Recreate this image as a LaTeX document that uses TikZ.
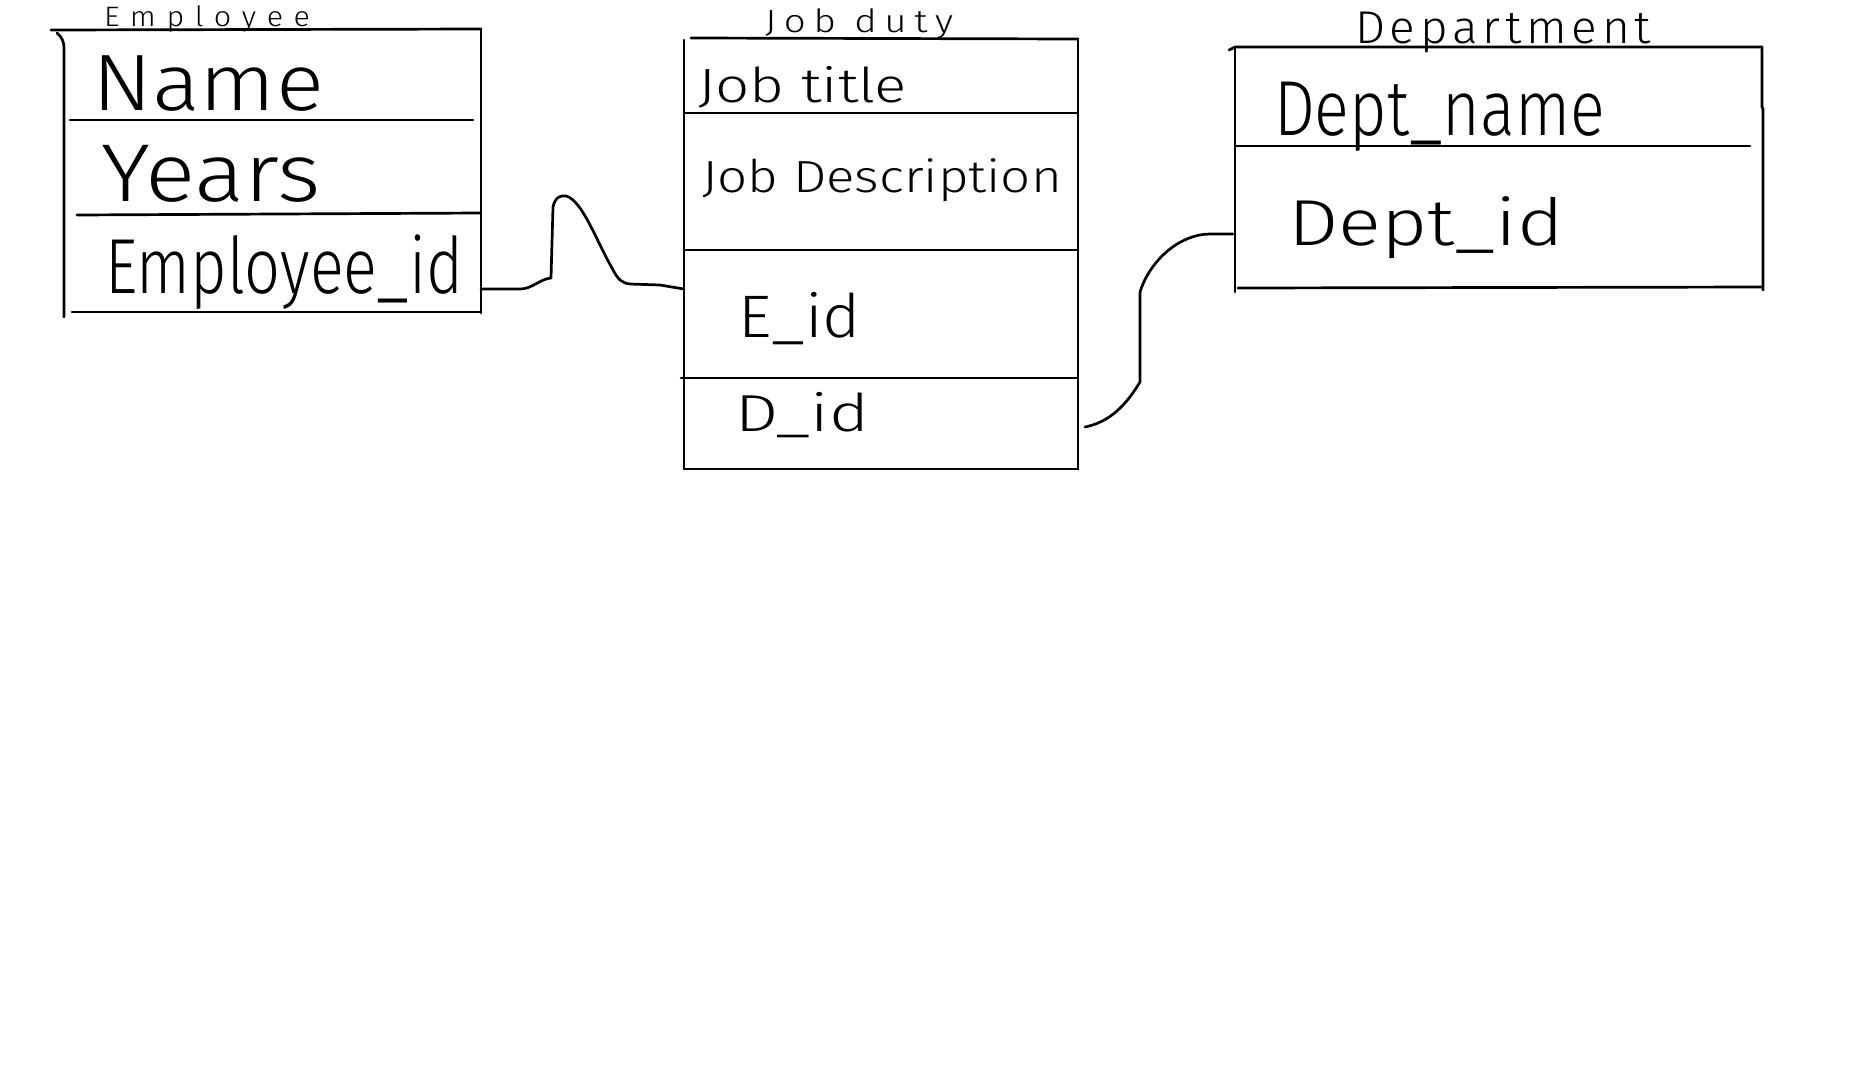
\documentclass[tikz,border=0pt]{standalone}
\usepackage{fontspec}
\usepackage{graphicx}
\setmainfont{Fira Sans}[UprightFont=* Light]
\newcommand\fitw[3]{\resizebox{#1pt}{\height}{\fontsize{#2pt}{#2pt}\selectfont #3}}
\begin{document}
\begin{tikzpicture}[x=1pt,y=-1pt,
  pen/.style={line width=2.7pt,line cap=round,line join=round,black},
  txt/.style={inner sep=0pt,outer sep=0pt,anchor=base west}]
\fill[white] (0,0) rectangle (1858,1080);
\useasboundingbox (0,0) rectangle (1858,1080);

% ---------- Employee table ----------
\draw[pen] (51,30) -- (481,29);
\draw[pen] (57,33) .. controls (62,37) and (64,42) .. (64,48) -- (64,317);
\draw[pen] (481,29) -- (481,313);
\draw[pen] (70,120) -- (473,120);
\draw[pen] (77,215) -- (480,213);
\draw[pen] (72,312) -- (481,312);
\node[txt] (tEmp) at (104,26) {\fitw{206}{28}{\addfontfeature{LetterSpace=35}Employee}};
\node[txt] (tName) at (92,110) {\fitw{232}{80}{Name}};
\node[txt] (tYears) at (101,201) {\fitw{220}{82}{Years}};
\node[txt] (tEmpId) at (105,293) {\fitw{358}{78}{Employee\_id}};
\coordinate (empIdEnd) at (481,289);

% ---------- Job duty table ----------
\draw[pen] (691,38) -- (1078,39);
\draw[pen] (684,40) -- (684,469);
\draw[pen] (1078,39) -- (1078,469);
\draw[pen] (684,113) -- (1078,113);
\draw[pen] (684,250) -- (1078,250);
\draw[pen] (681,378) -- (1077,378);
\draw[pen] (684,469) -- (1078,469);
\node[txt] (tJob) at (765,32) {\fitw{188}{32}{\addfontfeature{LetterSpace=20}Job duty}};
\node[txt] (tJobTitle) at (698,102) {\fitw{209}{48}{Job title}};
\node[txt] (tJobDesc) at (702,192) {\fitw{360}{45}{Job Description}};
\node[txt] (tEid) at (738,337) {\fitw{123}{60}{E\_id}};
\node[txt] (tDid) at (735,431) {\fitw{134}{52}{D\_id}};
\coordinate (eidEnd) at (684,289);
\coordinate (didEnd) at (1085,427);

% ---------- Department table ----------
\draw[pen] (1229,50) -- (1235,47) -- (1762,47);
\draw[pen] (1235,47) -- (1235,292);
\draw[pen] (1762,47) -- (1762,107) -- (1763,109) -- (1763,290);
\draw[pen] (1235,146) -- (1750,146);
\draw[pen] (1238,288) -- (1762,287);
\node[txt] (tDept) at (1355,43) {\fitw{296}{46}{\addfontfeature{LetterSpace=10}Department}};
\node[txt] (tDeptName) at (1274,135) {\fitw{331}{78}{Dept\_name}};
\node[txt] (tDeptId) at (1288,245) {\fitw{276}{65}{Dept\_id}};
\coordinate (deptIdEnd) at (1233,234);

% ---------- connectors ----------
\draw[pen] (empIdEnd) -- (520,289) .. controls (532,289) and (540,279) .. (551,278)
  -- (553,207) .. controls (555,197) and (561,195) .. (566,196)
  .. controls (582,200) and (596,240) .. (612,268)
  .. controls (618,280) and (622,283) .. (630,284) -- (660,285) -- (eidEnd);
\draw[pen] (didEnd) .. controls (1110,422) and (1126,405) .. (1140,382) -- (1140,292)
  .. controls (1150,260) and (1180,234) .. (1210,234) -- (deptIdEnd);
\end{tikzpicture}
\end{document}
